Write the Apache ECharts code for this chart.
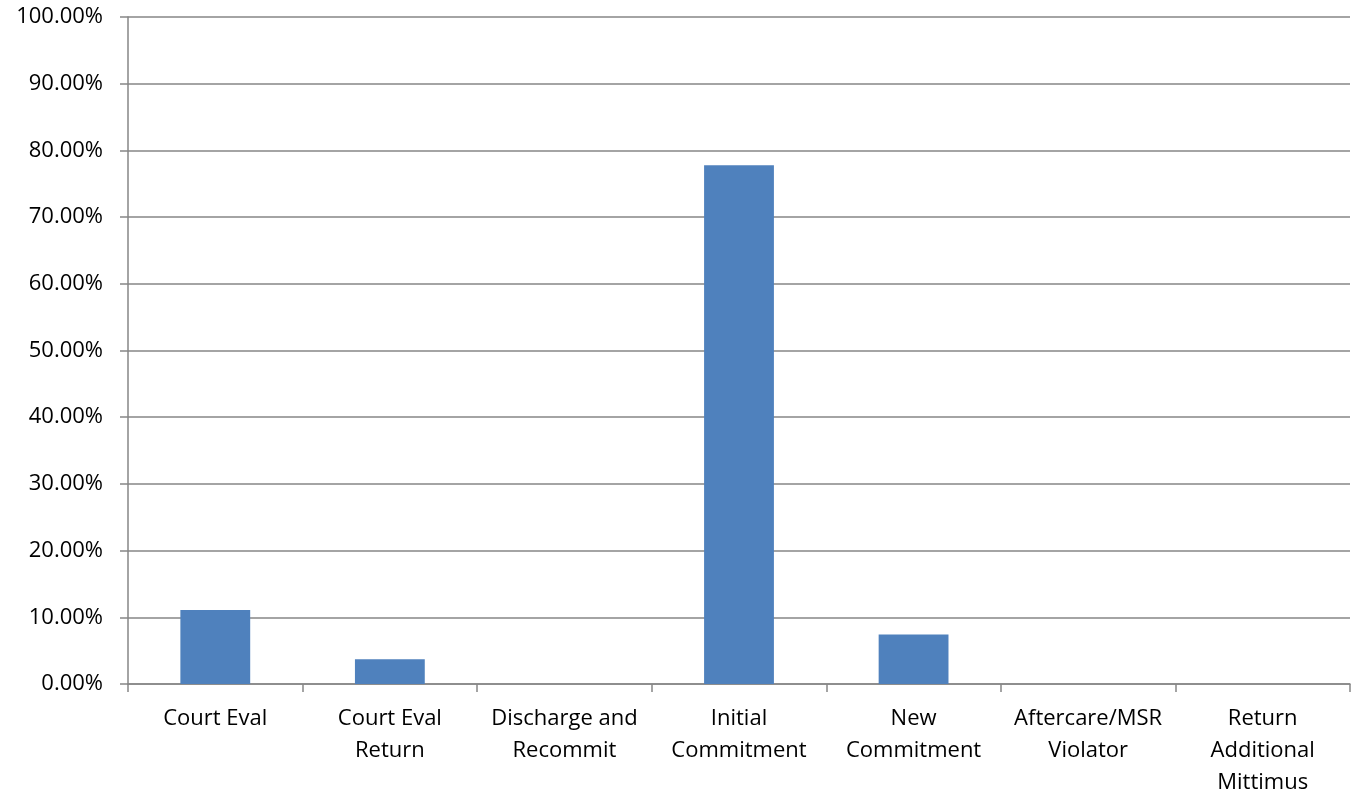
<!DOCTYPE html>
<html>
<head>
<meta charset="utf-8">
<script src="https://cdn.jsdelivr.net/npm/echarts@6/dist/echarts.min.js"></script>
<style>
html,body{margin:0;padding:0;background:#fff;}
#chart{width:1358px;height:799px;}
</style>
</head>
<body>
<div id="chart"></div>
<script>
const categories = ['Court Eval', 'Court Eval\nReturn', 'Discharge and\nRecommit', 'Initial\nCommitment', 'New\nCommitment', 'Aftercare/MSR\nViolator', 'Return\nAdditional\nMittimus'];
const values = [0.1111, 0.0370, 0, 0.7778, 0.0741, 0, 0];
const yTicks = [0, 0.1, 0.2, 0.3, 0.4, 0.5, 0.6, 0.7, 0.8, 0.9, 1.0];

const chart = echarts.init(document.getElementById('chart'));
const font = '"Open Sans", Lato, sans-serif';
chart.setOption({
  animation: false,
  grid: {left: 128, right: 8, top: 17, bottom: 115, containLabel: false},
  xAxis: {
    type: 'category',
    data: categories,
    axisLine: {lineStyle: {color: '#868686', width: 1.5}},
    axisTick: {show: true, length: 8, lineStyle: {color: '#868686', width: 1.5}},
    axisLabel: {color: '#000', fontSize: 22, fontFamily: font, lineHeight: 32, margin: 19, interval: 0}
  },
  yAxis: {
    type: 'value',
    min: 0, max: 1, interval: 0.1,
    axisLine: {show: true, lineStyle: {color: '#868686', width: 1.5}},
    axisTick: {show: true, length: 8, lineStyle: {color: '#868686', width: 1.5}},
    splitLine: {lineStyle: {color: '#868686', width: 1.5}},
    axisLabel: {color: '#000', fontSize: 22, fontFamily: font, margin: 25,
      formatter: v => (v * 100).toFixed(2) + '%'}
  },
  series: [{
    type: 'bar',
    data: values,
    barWidth: '40%',
    itemStyle: {color: '#4F81BD'}
  }]
});
</script>
</body>
</html>
